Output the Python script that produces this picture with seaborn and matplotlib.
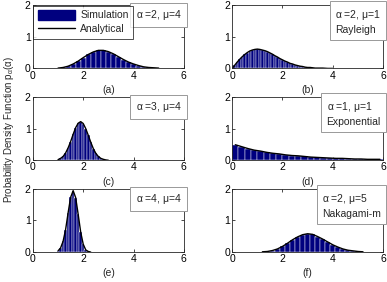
import numpy as np
import pandas as pd
import matplotlib
matplotlib.use('Agg')
import matplotlib.pyplot as plt
import seaborn as sns
from matplotlib.patches import Patch
from matplotlib.lines import Line2D

# values (bin centre, pdf height)
# (a) alpha=2, mu=4
xa = [1.0, 1.2, 1.4, 1.6, 1.8, 2.0, 2.2, 2.4, 2.6, 2.8, 3.0, 3.2, 3.4, 3.6, 3.8, 4.0, 4.2, 4.4, 4.6, 4.8, 5.0]
ya = [0.01, 0.03, 0.07, 0.14, 0.23, 0.34, 0.44, 0.52, 0.57, 0.57, 0.53, 0.46, 0.37, 0.28, 0.20, 0.14, 0.09, 0.05, 0.03, 0.02, 0.01]
# (b) alpha=2, mu=1 Rayleigh
xb = [0.0, 0.1, 0.2, 0.3, 0.4, 0.5, 0.6, 0.7, 0.8, 0.9, 1.0, 1.1, 1.2, 1.3, 1.4, 1.5, 1.6, 1.7, 1.8, 1.9,
      2.0, 2.1, 2.2, 2.3, 2.4, 2.5, 2.6, 2.7, 2.8, 2.9, 3.0, 3.1, 3.2, 3.3, 3.4, 3.5, 3.6, 3.8, 4.0]
yb = [0.0, 0.10, 0.20, 0.29, 0.37, 0.44, 0.50, 0.55, 0.58, 0.60, 0.61, 0.60, 0.58, 0.56, 0.53, 0.49, 0.45, 0.40, 0.36, 0.31,
      0.27, 0.23, 0.20, 0.16, 0.14, 0.11, 0.09, 0.07, 0.06, 0.04, 0.03, 0.03, 0.02, 0.01, 0.01, 0.01, 0.01, 0.0, 0.0]
# (c) alpha=3, mu=4
xc = [1.0, 1.1, 1.2, 1.3, 1.4, 1.5, 1.6, 1.7, 1.8, 1.9, 2.0, 2.1, 2.2, 2.3, 2.4, 2.5, 2.6, 2.7, 2.8, 2.9, 3.0]
yc = [0.02, 0.06, 0.12, 0.23, 0.39, 0.59, 0.82, 1.03, 1.17, 1.22, 1.16, 1.00, 0.79, 0.57, 0.37, 0.22, 0.12, 0.06, 0.03, 0.01, 0.0]
# (d) alpha=1, mu=1 exponential
xd = [0.125, 0.375, 0.625, 0.875, 1.125, 1.375, 1.625, 1.875, 2.125, 2.375, 2.625, 2.875,
      3.125, 3.375, 3.625, 3.875, 4.125, 4.375, 4.625, 4.875, 5.125, 5.375, 5.625, 5.875]
yd = [0.49, 0.43, 0.37, 0.32, 0.29, 0.25, 0.22, 0.20, 0.17, 0.15, 0.14, 0.12,
      0.10, 0.09, 0.08, 0.07, 0.06, 0.06, 0.05, 0.04, 0.04, 0.03, 0.03, 0.03]
# (e) alpha=4, mu=4
xe = [1.0, 1.1, 1.2, 1.3, 1.4, 1.5, 1.6, 1.7, 1.8, 1.9, 2.0, 2.1, 2.2, 2.3]
ye = [0.04, 0.13, 0.34, 0.71, 1.24, 1.73, 1.94, 1.72, 1.19, 0.63, 0.25, 0.07, 0.02, 0.0]
# (f) alpha=2, mu=5 Nakagami-m
xf = [1.2, 1.4, 1.6, 1.8, 2.0, 2.2, 2.4, 2.6, 2.8, 3.0, 3.2, 3.4, 3.6, 3.8, 4.0, 4.2, 4.4, 4.6, 4.8, 5.0, 5.2]
yf = [0.01, 0.02, 0.05, 0.10, 0.18, 0.28, 0.39, 0.48, 0.55, 0.58, 0.56, 0.49, 0.41, 0.32, 0.23, 0.16, 0.10, 0.06, 0.04, 0.02, 0.01]

panels = [(xa, ya, 0.2, '(a)', r'$\alpha$ =2, $\mu$=4'),
          (xb, yb, 0.1, '(b)', '$\\alpha$ =2, $\\mu$=1\nRayleigh'),
          (xc, yc, 0.1, '(c)', r'$\alpha$ =3, $\mu$=4'),
          (xd, yd, 0.25, '(d)', '$\\alpha$ =1, $\\mu$=1\nExponential'),
          (xe, ye, 0.1, '(e)', r'$\alpha$ =4, $\mu$=4'),
          (xf, yf, 0.2, '(f)', '$\\alpha$ =2, $\\mu$=5\nNakagami-m')]

sns.set_theme(style='ticks')
plt.rcParams['font.family'] = ['Liberation Sans', 'DejaVu Sans']
plt.rcParams['mathtext.fontset'] = 'custom'
plt.rcParams['mathtext.rm'] = 'Liberation Sans'
plt.rcParams['mathtext.it'] = 'Liberation Sans'

navy = '#00007f'
fs = 7.5
fig, axes = plt.subplots(3, 2, figsize=(3.87, 2.82), dpi=100)
fig.subplots_adjust(left=0.085, right=0.99, top=0.982, bottom=0.106, wspace=0.32, hspace=0.45)

for ax, (xs, ys, w, lab, note) in zip(axes.flat, panels):
    df = pd.DataFrame({'x': xs, 'pdf': ys})
    edges = [round(v - w / 2, 4) for v in xs] + [round(xs[-1] + w / 2, 4)]
    sns.histplot(data=df, x='x', weights='pdf', bins=edges, color=navy, alpha=1,
                 edgecolor='white', linewidth=0.3, ax=ax)
    sns.lineplot(data=df, x='x', y='pdf', color='black', lw=1.0, ax=ax)
    ax.set_xlim(0, 6)
    ax.set_ylim(0, 2)
    ax.set_xticks([0, 2, 4, 6])
    ax.set_yticks([0, 1, 2])
    ax.tick_params(direction='in', top=True, right=True, labelsize=fs, length=2, width=0.5,
                   pad=1.5, colors='black')
    for s in ax.spines.values():
        s.set_linewidth(0.6)
    ax.set_xlabel(lab, fontsize=fs, labelpad=3)
    ax.set_ylabel('')
    ax.text(0.985, 0.95, note, transform=ax.transAxes, ha='right', va='top',
            multialignment='left', fontsize=fs, linespacing=1.35,
            bbox=dict(boxstyle='square,pad=0.5', fc='white', ec='#999999', lw=0.7))

handles = [Patch(facecolor=navy, edgecolor=navy), Line2D([0], [0], color='black', lw=1)]
leg = axes[0, 0].legend(handles, ['Simulation', 'Analytical'], loc='upper left', fontsize=fs,
                        frameon=True, fancybox=False, edgecolor='black', borderaxespad=0.05,
                        handlelength=3.6, handleheight=1.1, borderpad=0.4, labelspacing=0.35,
                        handletextpad=0.5)
leg.get_frame().set_linewidth(0.6)

fig.text(0.022, 0.54, r'Probability Density Function p$_{\alpha}$($\alpha$)',
         rotation=90, ha='center', va='center', fontsize=7)

fig.savefig('out.png', dpi=100)
